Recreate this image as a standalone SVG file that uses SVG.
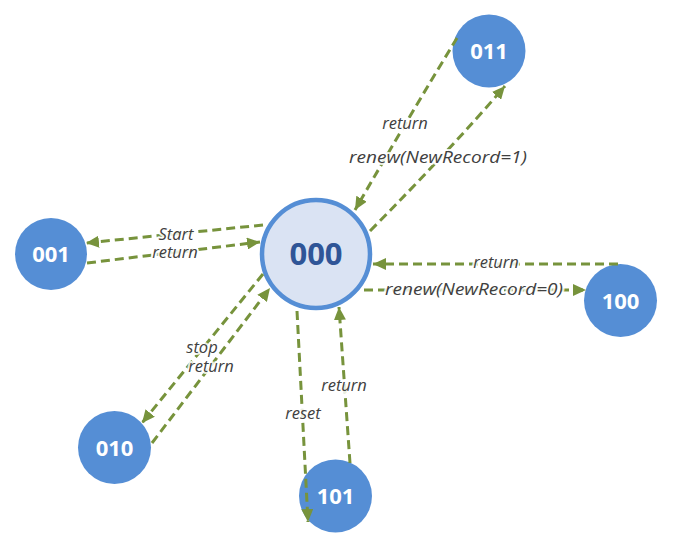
<svg xmlns="http://www.w3.org/2000/svg" width="673" height="548" viewBox="0 0 673 548">
<style>
.node{fill:#558ed5}
.nt{font-family:"Open Sans","Liberation Sans",sans-serif;font-weight:bold;font-size:22px;fill:#fff;text-anchor:middle}
.ct{font-family:"Open Sans","Liberation Sans",sans-serif;font-weight:bold;font-size:31px;fill:#2f5597;text-anchor:middle}
.c{fill:none;stroke:#77933c;stroke-width:3;stroke-dasharray:9 5;marker-end:url(#ah)}
.lb{font-family:"Open Sans","Liberation Sans",sans-serif;font-style:italic;font-size:16.5px;fill:#404040;text-anchor:middle;paint-order:stroke;stroke:#fff;stroke-opacity:0.85;stroke-width:4;stroke-linejoin:round}
</style>
<defs>
<marker id="ah" markerUnits="userSpaceOnUse" markerWidth="13" markerHeight="12" refX="13" refY="6" orient="auto">
<path d="M0,0 L13,6 L0,12 z" fill="#77933c"/>
</marker>
</defs>
<rect width="673" height="548" fill="#fff"/>
<g id="n000"><circle cx="316" cy="254" r="54" fill="#dae3f3" stroke="#558ed5" stroke-width="4.5"/><text class="ct" x="316" y="265">000</text></g>
<g id="n001"><circle class="node" cx="51" cy="254" r="36"/><text class="nt" x="51" y="262">001</text></g>
<g id="n011"><circle class="node" cx="489" cy="51" r="36.5"/><text class="nt" x="489" y="59">011</text></g>
<g id="n100"><circle class="node" cx="620.5" cy="300.5" r="36.5"/><text class="nt" x="620.5" y="308.5">100</text></g>
<g id="n010"><circle class="node" cx="114.5" cy="447.5" r="36.5"/><text class="nt" x="114.5" y="455.5">010</text></g>
<g id="n101"><circle class="node" cx="335.5" cy="496" r="36.5"/><text class="nt" x="335.5" y="504">101</text></g>
<g id="connectors">
<path class="c" d="M263,225 L86,243"/>
<path class="c" d="M87,263 L260,242"/>
<path class="c" d="M457,38 Q410,115 355,210"/>
<path class="c" d="M370,231 Q450,150 505,86"/>
<path class="c" d="M618,264 L373,264"/>
<path class="c" d="M364,290 L586,290"/>
<path class="c" d="M263,274 L142,423"/>
<path class="c" d="M152,443 L270,288"/>
<path class="c" d="M297,311 L308,522"/>
<path class="c" d="M350,463 L339,307"/>
</g>
<g id="labels">
<text class="lb" x="176" y="240">Start</text>
<text class="lb" x="175" y="258">return</text>
<text class="lb" x="405" y="129">return</text>
<text class="lb" x="438" y="163" textLength="178" lengthAdjust="spacingAndGlyphs">renew(NewRecord=1)</text>
<text class="lb" x="496" y="268">return</text>
<text class="lb" x="474" y="295" textLength="178" lengthAdjust="spacingAndGlyphs">renew(NewRecord=0)</text>
<text class="lb" x="202" y="353">stop</text>
<text class="lb" x="211" y="372">return</text>
<text class="lb" x="303" y="419">reset</text>
<text class="lb" x="344" y="391">return</text>
</g>
</svg>
